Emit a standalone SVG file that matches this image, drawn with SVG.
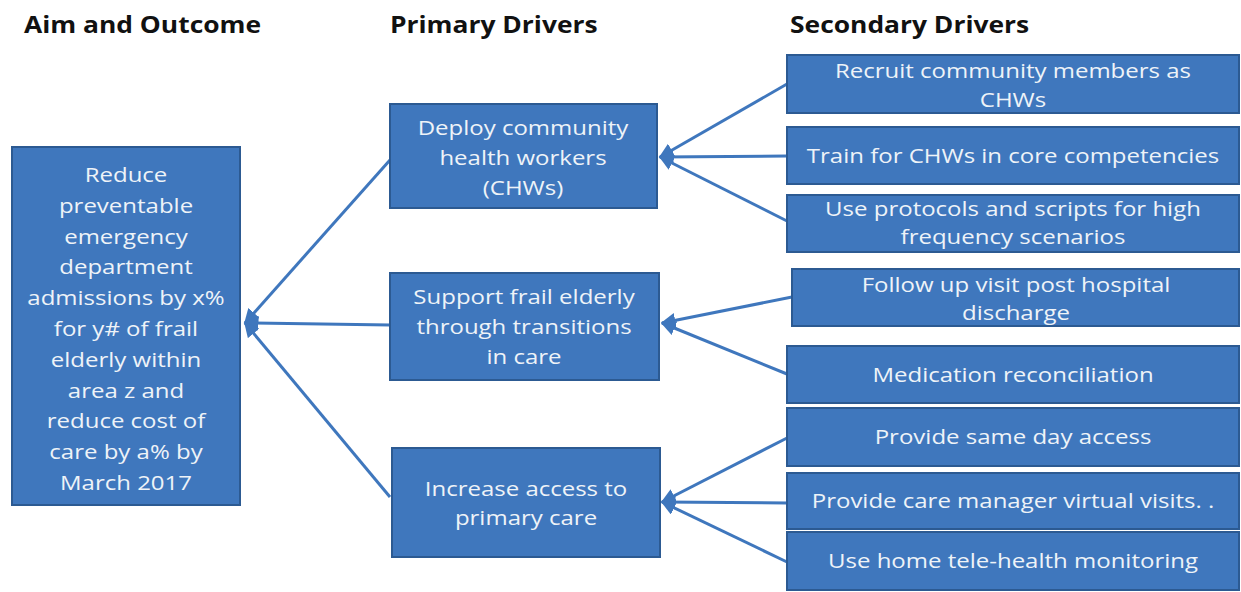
<svg xmlns="http://www.w3.org/2000/svg" width="1241" height="592" viewBox="0 0 1241 592">
<style>
.hdr{font-family:"Open Sans","Liberation Sans",sans-serif;font-weight:bold;font-size:24px;fill:#111}
.box{fill:#3f77bd;stroke:#2c5a92;stroke-width:2}
.t{font-family:"Open Sans","Liberation Sans",sans-serif;font-size:20px;fill:#eef3f8;text-anchor:middle}
.c{stroke:#3f77bd;stroke-width:3;fill:none;marker-end:url(#ah)}
</style>
<defs>
<marker id="ah" viewBox="0 0 10 10" refX="9" refY="5" markerWidth="5" markerHeight="5" orient="auto" markerUnits="strokeWidth">
<path d="M0,0 L10,5 L0,10 z" fill="#3f77bd"/>
</marker>
</defs>
<rect width="1241" height="592" fill="#fff"/>
<text class="hdr" transform="translate(24,33) scale(1.1,1)">Aim and Outcome</text>
<text class="hdr" transform="translate(390,33) scale(1.1,1)">Primary Drivers</text>
<text class="hdr" transform="translate(790,33) scale(1.1,1)">Secondary Drivers</text>

<g id="connectors">
<line class="c" x1="390" y1="160" x2="245" y2="323"/>
<line class="c" x1="390" y1="325" x2="245" y2="323"/>
<line class="c" x1="390" y1="497" x2="245" y2="323"/>
<line class="c" x1="787" y1="84" x2="660" y2="157"/>
<line class="c" x1="787" y1="156" x2="660" y2="157"/>
<line class="c" x1="787" y1="221" x2="660" y2="157"/>
<line class="c" x1="792" y1="297" x2="662" y2="323"/>
<line class="c" x1="787" y1="374" x2="662" y2="323"/>
<line class="c" x1="787" y1="438" x2="662" y2="502"/>
<line class="c" x1="787" y1="503" x2="662" y2="502"/>
<line class="c" x1="787" y1="562" x2="662" y2="502"/>
</g>

<g id="aim">
<rect class="box" x="12" y="147" width="228" height="358"/>
<text class="t" transform="translate(126,182) scale(1.2,1)">Reduce</text>
<text class="t" transform="translate(126,212.8) scale(1.2,1)">preventable</text>
<text class="t" transform="translate(126,243.6) scale(1.2,1)">emergency</text>
<text class="t" transform="translate(126,274.4) scale(1.2,1)">department</text>
<text class="t" transform="translate(126,305.2) scale(1.2,1)">admissions by x%</text>
<text class="t" transform="translate(126,336) scale(1.2,1)">for y# of frail</text>
<text class="t" transform="translate(126,366.8) scale(1.2,1)">elderly within</text>
<text class="t" transform="translate(126,397.6) scale(1.2,1)">area z and</text>
<text class="t" transform="translate(126,428.4) scale(1.2,1)">reduce cost of</text>
<text class="t" transform="translate(126,459.2) scale(1.2,1)">care by a% by</text>
<text class="t" transform="translate(126,490) scale(1.2,1)">March 2017</text>
</g>

<g id="p1">
<rect class="box" x="390" y="104" width="267" height="104"/>
<text class="t" transform="translate(523,135) scale(1.2,1)">Deploy community</text>
<text class="t" transform="translate(523,165) scale(1.2,1)">health workers</text>
<text class="t" transform="translate(523,195) scale(1.2,1)">(CHWs)</text>
</g>
<g id="p2">
<rect class="box" x="390" y="273" width="269" height="107"/>
<text class="t" transform="translate(524,304) scale(1.2,1)">Support frail elderly</text>
<text class="t" transform="translate(524,334) scale(1.2,1)">through transitions</text>
<text class="t" transform="translate(524,364) scale(1.2,1)">in care</text>
</g>
<g id="p3">
<rect class="box" x="392" y="448" width="268" height="109"/>
<text class="t" transform="translate(526,496) scale(1.2,1)">Increase access to</text>
<text class="t" transform="translate(526,525) scale(1.2,1)">primary care</text>
</g>

<g id="s1">
<rect class="box" x="787" y="55" width="452" height="58"/>
<text class="t" transform="translate(1013,78) scale(1.2,1)">Recruit community members as</text>
<text class="t" transform="translate(1013,107) scale(1.2,1)">CHWs</text>
</g>
<g id="s2">
<rect class="box" x="787" y="127" width="452" height="57"/>
<text class="t" transform="translate(1013,163) scale(1.2,1)">Train for CHWs in core competencies</text>
</g>
<g id="s3">
<rect class="box" x="787" y="195" width="452" height="57"/>
<text class="t" transform="translate(1013,216) scale(1.2,1)">Use protocols and scripts for high</text>
<text class="t" transform="translate(1013,244) scale(1.2,1)">frequency scenarios</text>
</g>
<g id="s4">
<rect class="box" x="792" y="269" width="447" height="57"/>
<text class="t" transform="translate(1016,292) scale(1.2,1)">Follow up visit post hospital</text>
<text class="t" transform="translate(1016,320) scale(1.2,1)">discharge</text>
</g>
<g id="s5">
<rect class="box" x="787" y="346" width="452" height="57"/>
<text class="t" transform="translate(1013,382) scale(1.2,1)">Medication reconciliation</text>
</g>
<g id="s6">
<rect class="box" x="787" y="408" width="452" height="58"/>
<text class="t" transform="translate(1013,444) scale(1.2,1)">Provide same day access</text>
</g>
<g id="s7">
<rect class="box" x="787" y="473" width="452" height="56"/>
<text class="t" transform="translate(1013,508) scale(1.2,1)">Provide care manager virtual visits. .</text>
</g>
<g id="s8">
<rect class="box" x="787" y="532" width="452" height="58"/>
<text class="t" transform="translate(1013,568) scale(1.2,1)">Use home tele-health monitoring</text>
</g>
</svg>
